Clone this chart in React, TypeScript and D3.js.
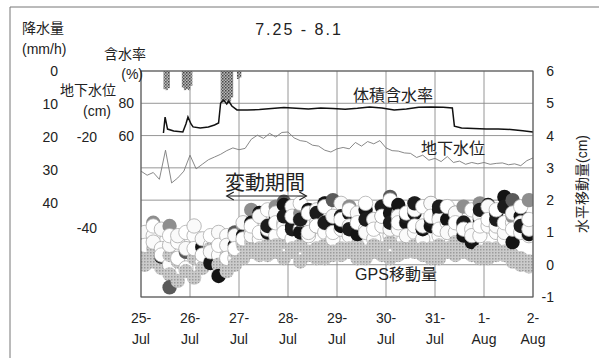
import React from 'react'
import * as d3 from 'd3'

// x axis: hours from 25-Jul 00:00
const dayHours = [0, 24, 48, 72, 96, 120, 144, 168, 192]
const dayLabels = [['25-', 'Jul'], ['26-', 'Jul'], ['27-', 'Jul'], ['28-', 'Jul'], ['29-', 'Jul'], ['30-', 'Jul'], ['31-', 'Jul'], ['1-', 'Aug'], ['2-', 'Aug']]

const gpsTicks = [6, 5, 4, 3, 2, 1, 0, -1]
const rainTicks = [0, 10, 20, 30, 40]
const wcTicks = [80, 60]
const gwTicks = [-20, -40]

// hourly rainfall (mm/h)
const rainHours = [11, 12, 13, 20, 21, 22, 23, 24, 39, 40, 41, 42, 43, 44, 47, 48]
const rainValues = [5.5, 5.8, 5.2, 5.0, 5.8, 5.5, 5.8, 4.5, 9.5, 9.5, 9.0, 9.6, 9.2, 8.0, 2.4, 2.0]

// volumetric water content (%)
const wcHours = [11, 11.8, 13, 16, 20.5, 22, 23, 24.5, 25.5, 29, 33, 36, 38, 39, 40.5, 42, 43, 44.5, 47, 52, 58, 64, 70, 76, 82, 88, 94, 100, 106, 112, 118, 124, 130, 136, 142, 148, 152.5, 153.5, 157, 163, 169, 175, 181, 187, 192]
const wcValues = [61.8, 71.5, 64.2, 63, 62.4, 67.3, 71.5, 67.3, 65.5, 64.8, 65.5, 66.7, 67.9, 80, 81.8, 79.4, 81.2, 78.2, 75.8, 75.8, 76.0, 76.6, 77.2, 76.8, 76.4, 77.0, 76.6, 76.2, 76.8, 77.6, 77.0, 75.8, 76.4, 77.4, 77.6, 77.4, 77.0, 66.0, 64.8, 64.6, 64.2, 64.2, 64.0, 63.2, 62.4]

// groundwater level (cm), every 3 hours
const gwHours = [0, 3, 6, 9, 12, 15, 18, 21, 24, 27, 30, 33, 36, 39, 42, 45, 48, 51, 54, 57, 60, 63, 66, 69, 72, 75, 78, 81, 84, 87, 90, 93, 96, 99, 102, 105, 108, 111, 114, 117, 120, 123, 126, 129, 132, 135, 138, 141, 144, 147, 150, 153, 156, 159, 162, 165, 168, 171, 174, 177, 180, 183, 186, 189, 192]
const gwValues = [-27.5, -28.4, -27.8, -29.3, -22.9, -30.1, -29.0, -27.5, -24.0, -27.0, -26.0, -25.0, -24.4, -23.8, -23.0, -22.4, -22.8, -22.5, -20.5, -19.6, -20.3, -19.2, -20.0, -19.0, -18.9, -20.2, -20.8, -21.0, -21.8, -22.0, -22.9, -23.3, -22.6, -22.3, -22.6, -21.2, -22.0, -21.0, -21.5, -20.8, -22.4, -23.0, -23.1, -23.5, -23.6, -24.5, -24.0, -25.1, -24.7, -25.4, -24.3, -25.6, -25.3, -26.0, -25.6, -25.9, -25.6, -26.0, -25.8, -25.7, -26.1, -25.9, -26.3, -25.2, -24.6]

// GPS horizontal displacement (cm), every 4 hours, several receivers
const gpsHours = [2, 6, 10, 14, 18, 22, 26, 30, 34, 38, 42, 46, 50, 54, 58, 62, 66, 70, 74, 78, 82, 86, 90, 94, 98, 102, 106, 110, 114, 118, 122, 126, 130, 134, 138, 142, 146, 150, 154, 158, 162, 166, 170, 174, 178, 182, 186, 190]
const gpsLight1 = [0.4, 0.1, -0.1, 0.3, -0.5, -0.2, 0.2, -0.1, 0.1, -0.3, 0.3, 0.0, 0.6, 0.4, 0.5, 0.3, 0.6, 0.2, 0.4, 0.1, 0.3, 0.5, 0.2, 0.4, 0.3, 0.5, 0.2, 0.4, 0.6, 0.3, 0.2, 0.5, 0.4, 0.6, 0.3, 0.5, 0.2, 0.4, 0.7, 0.5, 0.3, 0.4, 0.2, 0.5, 0.3, 0.1, 0.2, -0.05]
const gpsLight2 = [0.0, 0.5, 0.2, -0.3, 0.1, 0.4, -0.4, 0.3, 0.5, 0.0, -0.2, 0.4, 0.2, 0.7, 0.3, 0.6, 0.4, 0.7, 0.5, 0.6, 0.4, 0.2, 0.6, 0.3, 0.5, 0.4, 0.6, 0.2, 0.4, 0.5, 0.7, 0.3, 0.6, 0.4, 0.5, 0.2, 0.6, 0.5, 0.3, 0.4, 0.6, 0.2, 0.5, 0.3, 0.4, 0.3, 0.0, 0.1]
const gpsMid = [null, 1.3, null, 1.2, null, null, null, 0.3, null, null, null, null, 1.2, 1.7, null, null, 1.8, null, null, 1.6, null, null, 1.9, null, null, 1.8, null, null, 1.4, null, null, 1.6, null, 1.9, null, null, 1.5, null, null, 1.8, null, 1.9, null, null, null, 1.5, null, 2.0]
const gpsDark = [null, null, null, -0.7, null, 0.4, null, null, null, null, null, 1.0, null, null, null, null, null, 1.95, null, null, null, null, null, 2.0, null, null, null, null, null, null, 2.1, null, null, null, null, 1.9, null, null, null, null, null, null, 1.8, null, null, 2.0, null, null]
const gpsWhite1 = [1.0, 0.7, 1.1, 0.6, 0.9, 0.5, 1.2, 0.8, 0.4, 1.0, 0.6, 0.9, 1.3, 0.9, 1.5, 1.1, 1.6, 1.2, 1.8, 1.4, 1.0, 1.7, 1.3, 1.5, 1.9, 1.2, 1.6, 1.0, 1.4, 1.8, 1.1, 1.5, 0.9, 1.7, 1.2, 1.9, 1.4, 1.0, 1.6, 1.3, 0.9, 1.5, 1.8, 1.2, 1.0, 1.6, 1.3, 1.1]
const gpsBlack1 = [null, null, 0.25, null, null, null, null, 0.55, 0.05, -0.35, null, 0.6, 0.9, 1.3, 1.6, 1.0, 1.4, 1.85, 1.2, 1.0, 1.7, 1.2, 1.9, 1.4, 1.2, 1.6, 0.95, 1.7, 1.3, 1.5, 1.6, 1.85, 1.3, 1.6, 1.1, 1.2, 1.7, 1.4, 1.6, 0.9, 0.7, 1.4, 1.85, 1.6, 2.1, 0.7, 1.5, 0.95]
const gpsWhite2 = [0.6, 1.2, 0.3, 0.9, 0.2, 1.0, 0.5, 0.3, 0.9, 0.6, 0.2, 0.5, 0.8, 1.2, 1.0, 1.7, 1.3, 1.0, 1.5, 1.9, 1.6, 1.2, 1.8, 1.0, 1.4, 1.7, 1.3, 1.9, 1.1, 1.5, 2.0, 1.3, 1.6, 1.2, 1.8, 1.5, 1.1, 1.8, 1.3, 1.1, 1.7, 1.2, 1.4, 1.7, 1.3, 1.1, 1.8, 1.4]
const gpsBlack2 = [null, null, null, null, null, null, null, null, null, null, null, null, null, null, null, 1.2, null, 1.5, 1.1, 1.4, null, 1.6, 1.3, null, 1.5, 1.1, null, 1.4, null, 1.8, 1.3, null, 1.5, 1.9, null, 1.4, 1.8, null, null, 1.3, null, 1.7, null, 1.4, 1.8, null, 1.2, null]
const gpsWhite3 = [0.2, 0.9, 0.5, 0.0, 0.7, -0.1, 0.9, 0.1, 0.6, 0.3, 0.9, 0.2, 0.7, 1.0, 0.8, 1.2, 0.9, 1.3, 0.8, 1.1, 0.9, 1.3, 1.0, 0.8, 1.1, 0.9, 1.3, 1.1, 0.8, 1.2, 0.9, 1.1, 1.3, 1.0, 0.8, 1.2, 0.9, 1.3, 1.0, 1.2, 1.1, 0.9, 1.2, 1.0, 0.8, 1.3, 1.0, 0.9]

// 変動期間 arrow (hours)
const periodStart = 42
const periodEnd = 81

const font = "'Liberation Sans', Arial, 'Noto Sans CJK JP', sans-serif"

export default function App() {
  const plot = { left: 141, right: 533, top: 71, bottom: 297 }

  const x = d3.scaleLinear().domain([0, 192]).range([plot.left, plot.right])
  const gps = d3.scaleLinear().domain([-1, 6]).range([plot.bottom, plot.top])
  const rain = d3.scaleLinear().domain([0, 40]).range([71, 203])
  const wc = d3.scaleLinear().domain([60, 100]).range([136, 70])
  const gw = d3.scaleLinear().domain([-20, -40]).range([137, 228])

  const wcPath = d3.line<number>().x((_, i) => x(wcHours[i])).y(d => wc(d))(wcValues)
  const gwPath = d3.line<number>().x((_, i) => x(gwHours[i])).y(d => gw(d))(gwValues)

  const series = [
    { values: gpsWhite3, fill: '#fdfdfd', stroke: '#aaa' },
    { values: gpsLight1, fill: 'url(#lightDots)', stroke: 'none' },
    { values: gpsLight2, fill: 'url(#lightDots)', stroke: 'none' },
    { values: gpsMid, fill: '#8e8e8e', stroke: 'none' },
    { values: gpsDark, fill: '#5a5a5a', stroke: 'none' },
    { values: gpsBlack1, fill: '#141414', stroke: 'none' },
    { values: gpsWhite1, fill: '#fafafa', stroke: '#a8a8a8' },
    { values: gpsBlack2, fill: '#1c1c1c', stroke: 'none' },
    { values: gpsWhite2, fill: '#ffffff', stroke: '#b0b0b0' },
  ]
  const dots: { cx: number, cy: number, fill: string, stroke: string }[] = []
  gpsHours.forEach((h, i) => {
    series.forEach(s => {
      const v = s.values[i]
      if (v != null) dots.push({ cx: x(h), cy: gps(v), fill: s.fill, stroke: s.stroke })
    })
  })

  const hourW = x(1) - x(0)
  const ay = 196
  const ax0 = x(periodStart), ax1 = x(periodEnd)

  return (
    <svg width={599} height={358} style={{ position: 'absolute', left: 0, top: 0, background: '#fff' }} fontFamily={font} fill="#222">
      <defs>
        <pattern id="rainHatch" width="3" height="3" patternUnits="userSpaceOnUse">
          <rect width="3" height="3" fill="#b8b8b8" />
          <rect width="1.5" height="1.5" fill="#444" />
          <rect x="1.5" y="1.5" width="1.5" height="1.5" fill="#666" />
        </pattern>
        <pattern id="lightDots" width="3" height="3" patternUnits="userSpaceOnUse">
          <rect width="3" height="3" fill="#cbcbcb" />
          <rect width="1.5" height="1.5" fill="#9c9c9c" />
        </pattern>
        <clipPath id="plotClip">
          <rect x={plot.left} y={plot.top} width={plot.right - plot.left} height={plot.bottom - plot.top} />
        </clipPath>
      </defs>

      {/* outer frame */}
      <line x1={10} x2={599} y1={7} y2={7} stroke="#777" strokeWidth={1} />
      <line x1={10} x2={10} y1={7} y2={358} stroke="#777" strokeWidth={1} />

      {/* title */}
      <text x={299} y={35} textAnchor="middle" fontSize={16} letterSpacing={2}>7.25 - 8.1</text>

      {/* grid */}
      {gpsTicks.map(t => (
        <line key={'h' + t} x1={plot.left} x2={plot.right} y1={gps(t)} y2={gps(t)} stroke="#8a8a8a" strokeWidth={0.9} />
      ))}
      {dayHours.map(h => (
        <line key={'v' + h} x1={x(h)} x2={x(h)} y1={plot.top} y2={plot.bottom} stroke="#8a8a8a" strokeWidth={0.9} />
      ))}

      {/* rainfall bars hanging from top */}
      {rainHours.map((h, i) => (
        <rect key={'r' + i} x={x(h)} y={rain(0)} width={hourW + 0.3} height={rain(rainValues[i]) - rain(0)} fill="url(#rainHatch)" />
      ))}

      {/* groundwater & water content */}
      <path d={gwPath || ''} fill="none" stroke="#7a7a7a" strokeWidth={0.9} />
      <path d={wcPath || ''} fill="none" stroke="#111" strokeWidth={1.5} />

      {/* GPS displacement */}
      <g clipPath="url(#plotClip)">
        {dots.map((d, i) => (
          <circle key={'c' + i} cx={d.cx} cy={d.cy} r={7.2} fill={d.fill} stroke={d.stroke} strokeWidth={0.8} />
        ))}
      </g>

      {/* plot border */}
      <rect x={plot.left} y={plot.top} width={plot.right - plot.left} height={plot.bottom - plot.top} fill="none" stroke="#555" strokeWidth={1} />

      {/* in-plot labels */}
      <text x={393} y={101} textAnchor="middle" fontSize={16}>体積含水率</text>
      <text x={453} y={154} textAnchor="middle" fontSize={16}>地下水位</text>
      <text x={396} y={280} textAnchor="middle" fontSize={16}>GPS移動量</text>
      <text x={265} y={190} textAnchor="middle" fontSize={20}>変動期間</text>
      <line x1={ax0} x2={ax1} y1={ay} y2={ay} stroke="#222" strokeWidth={1.2} />
      <polyline points={`${ax0 + 7},${ay - 4} ${ax0},${ay} ${ax0 + 7},${ay + 4}`} fill="none" stroke="#222" strokeWidth={1.2} />
      <polyline points={`${ax1 - 7},${ay - 4} ${ax1},${ay} ${ax1 - 7},${ay + 4}`} fill="none" stroke="#222" strokeWidth={1.2} />

      {/* right axis */}
      {gpsTicks.map(t => (
        <text key={'g' + t} x={554} y={gps(t) + 5} textAnchor="end" fontSize={14}>{t}</text>
      ))}
      <text transform="translate(587,184) rotate(-90)" textAnchor="middle" fontSize={14}>水平移動量(cm)</text>

      {/* left axes */}
      <text x={22} y={33} fontSize={14}>降水量</text>
      <text x={22} y={54} fontSize={14}>(mm/h)</text>
      <text x={104} y={59} fontSize={14}>含水率</text>
      <text x={143} y={79} textAnchor="end" fontSize={14}>(%)</text>
      <text x={60} y={95} fontSize={14}>地下水位</text>
      <text x={111} y={116} textAnchor="end" fontSize={14}>(cm)</text>
      {rainTicks.map(t => (
        <text key={'rt' + t} x={58} y={rain(t) + 5} textAnchor="end" fontSize={14}>{t}</text>
      ))}
      {wcTicks.map(t => (
        <text key={'wt' + t} x={134} y={wc(t) + 5} textAnchor="end" fontSize={14}>{t}</text>
      ))}
      {gwTicks.map(t => (
        <text key={'gt' + t} x={97} y={gw(t) + 5} textAnchor="end" fontSize={14}>{t}</text>
      ))}

      {/* x axis labels */}
      {dayHours.map((h, i) => (
        <g key={'xl' + h}>
          <text x={x(h)} y={323} textAnchor="middle" fontSize={14}>{dayLabels[i][0]}</text>
          <text x={x(h)} y={344} textAnchor="middle" fontSize={14}>{dayLabels[i][1]}</text>
        </g>
      ))}
    </svg>
  )
}
